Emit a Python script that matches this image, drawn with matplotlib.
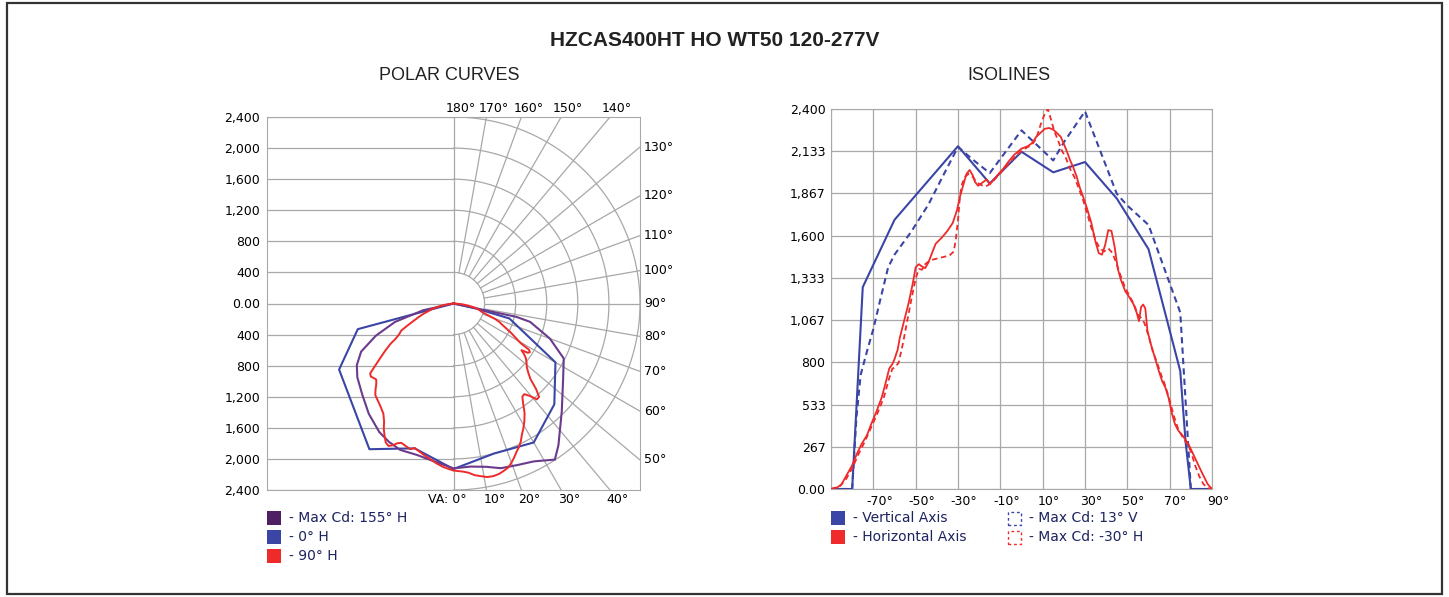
import numpy as np
import matplotlib
matplotlib.use("Agg")
import matplotlib.pyplot as plt
import matplotlib.transforms as mtransforms
from matplotlib.patches import Rectangle

# --- данные (кд по вертикальному углу; минус = противоположная полуплоскость) ---
# Vertical Axis / 0° H
vert_ang = [-90, -80, -75, -60, -30, -15, 0, 15, 30, 45, 60, 75, 77.5, 80, 90]
vert_cd = [0, 0, 1275, 1700, 2165, 1930, 2130, 2000, 2065, 1835, 1515, 745, 300, 0, 0]

# Max Cd: 13° V
vmax_ang = [-90, -80, -78, -76, -73, -70, -67, -63, -60, -52, -44, -36, -30, -22.5, -15,
            -7.5, 0, 7.5, 15, 20, 30, 45, 50, 60, 75, 77.5, 80, 90]
vmax_cd = [0, 0, 450, 720, 870, 1010, 1180, 1400, 1480, 1627, 1796, 2006, 2160, 2075, 1995,
           2130, 2265, 2170, 2075, 2190, 2385, 1865, 1790, 1668, 1115, 560, 0, 0]

# Horizontal Axis / 90° H
horz_ang = [-90, -87, -85, -82.5, -80, -77.5, -75.5, -73, -71, -68.5, -66, -64, -62.5, -61,
            -60, -58.5, -57.5, -55.5, -53.5, -51.5, -50, -48.5, -47, -45.5, -44, -42, -40.5,
            -37.5, -35, -32.5, -30.5, -29, -27.5, -26, -24.5, -23, -22, -20.5, -19, -16.5,
            -15, -13, -10.5, -8.5, -6, -3.5, 0, 3, 5, 7, 9, 11, 13, 15, 17, 18.5, 20, 21.5,
            23, 24.5, 26, 27.5, 29, 31, 33, 35, 36.5, 38, 39.5, 41, 42.5, 44, 45.5, 47, 49,
            51, 53, 54.5, 55.5, 56.5, 57.5, 58.5, 59.5, 61, 63, 65, 66.5, 68, 69.5, 71,
            72.5, 74, 76, 79, 82, 85, 88, 90]
horz_cd = [0, 10, 30, 90, 150, 230, 285, 340, 410, 490, 580, 680, 760, 790,
           820, 880, 955, 1060, 1165, 1290, 1400, 1420, 1405, 1395, 1430, 1500, 1550,
           1590, 1630, 1680, 1760, 1850, 1920, 1990, 2015, 1980, 1940, 1915, 1930, 1955,
           1925, 1955, 1995, 2025, 2070, 2110, 2150, 2165, 2185, 2225, 2250, 2275, 2280, 2270, 2245, 2225, 2180, 2130,
           2075, 2030, 1975, 1905, 1850, 1770, 1680, 1560, 1490, 1480, 1540, 1635, 1630, 1530, 1390, 1320, 1250,
           1210, 1165, 1110, 1060, 1150, 1165, 1140, 1000, 920, 830, 740, 680, 640, 575, 480,
           410, 370, 340, 280, 195, 110, 30, 0]

# Max Cd: -30° H
hmax_ang = [-90, -86, -83, -80, -77, -74, -71, -68, -65, -62.5, -61, -59.5, -58, -56, -54,
            -52, -50, -48.5, -47, -45.5, -43, -40, -37, -34, -32, -31, -30, -29, -28, -26.5,
            -25, -23, -21, -19, -17, -15, -12, -9, -6, -3, 0, 3, 5, 7, 9, 11, 12.5, 14, 15.5,
            17, 19, 21, 23, 25, 27, 29, 31, 33, 35, 37, 39, 41, 43, 45, 47, 49, 51, 53, 55,
            56.5, 58, 60, 62, 64, 66, 68, 70, 72, 74, 76, 78, 80, 82, 84, 86, 88, 90]
hmax_cd = [0, 15, 60, 130, 220, 300, 390, 480, 580, 700, 760, 770, 800, 920, 1060,
           1200, 1330, 1390, 1385, 1420, 1445, 1455, 1465, 1475, 1500, 1580, 1700, 1860, 1930, 1975,
           1990, 1970, 1935, 1920, 1910, 1925, 1965, 2010, 2055, 2100, 2135, 2160, 2175, 2215, 2300, 2370, 2400, 2330, 2260,
           2210, 2140, 2090, 2020, 1970, 1900, 1830, 1740, 1650, 1570, 1520, 1500, 1520, 1490, 1420, 1340, 1270, 1220, 1170, 1100,
           1080, 1050, 970, 870, 800, 720, 650, 560, 460, 380, 330, 290, 240, 150, 80, 30, 5, 0]

# Max Cd: 155° H (только полярный график)
p155_ang = [-90, -80, -77.5, -72.5, -67.5, -62.5, -57.5, -52.5, -45, -37.5, -30, -25, -20,
            -13.5, -8.5, 0, 6, 11.5, 16, 21.5, 27, 33, 36.5, 45, 55.5, 63.5, 70, 76.5, 78, 80, 90]
p155_cd = [0, 0, 400, 790, 1080, 1340, 1475, 1560, 1660, 1790, 1910, 1965, 2005,
           2005, 2035, 2122, 2110, 2145, 2205, 2235, 2280, 2395, 2270, 1970, 1712, 1585, 1320, 1015, 830, 0, 0]

y_ticks = [0, 267, 533, 800, 1067, 1333, 1600, 1867, 2133, 2400]

BLUE = "#3a45a5"
RED = "#ee2a2a"
PURPLE = "#6c3a8c"
PURPLE_SQ = "#4e2063"
GRID = "#a8a8a8"
TXT = "#1d2260"

W, H = 1449, 597
fig = plt.figure(figsize=(W / 100, H / 100), dpi=100)


def fx(x):
    return x / W


def fy(y):
    return 1 - y / H


def to_xy(ang, cd):
    a = np.radians(ang)
    cd = np.asarray(cd, dtype=float)
    return cd * np.sin(a), -cd * np.cos(a)


narrow = ["Liberation Sans Narrow", "Liberation Sans", "DejaVu Sans"]

fig.text(fx(715), fy(40), "HZCAS400HT HO WT50 120-277V", family=narrow,
         weight="bold", fontsize=15, ha="center", va="center", color="#222222")
fig.text(fx(449), fy(75), "POLAR CURVES", family=narrow, fontsize=13,
         ha="center", va="center", color="#222222")
fig.text(fx(1009), fy(75), "ISOLINES", family=narrow, fontsize=13,
         ha="center", va="center", color="#222222")

# рамка вокруг всего
fig.add_artist(Rectangle((fx(7), fy(594)), fx(1442) - fx(7), fy(3) - fy(594),
                         transform=fig.transFigure, fill=False,
                         edgecolor="#333333", lw=1.6))

# ---------------- полярный график ----------------
ax1 = fig.add_axes([fx(267), fy(490), fx(640) - fx(267), fy(117) - fy(490)])
ax1.set_xlim(-2400, 2400)
ax1.set_ylim(-2400, 2400)
gkw = dict(color=GRID, lw=0.9, zorder=1)
for v in range(-2400, 2401, 400):
    ax1.plot([-2400, 0], [v, v], **gkw)
ax1.plot([0, 0], [-2400, 2400], **gkw)
t = np.linspace(0, 180, 200)
for r in range(400, 2401, 400):
    ax1.plot(*to_xy(t, np.full_like(t, r)), **gkw)
for a in range(10, 180, 10):
    ax1.plot(*to_xy([a, a], [400, 4000]), **gkw)

ax1.plot(*to_xy(vert_ang, vert_cd), color=BLUE, lw=1.5, zorder=3)
ax1.plot(*to_xy(p155_ang, p155_cd), color=PURPLE, lw=1.5, zorder=3)
ax1.plot(*to_xy(horz_ang, horz_cd), color=RED, lw=1.4, zorder=4)

yt = list(range(-2400, 2401, 400))
ax1.set_yticks(yt)
ax1.set_yticklabels(["0.00" if v == 0 else f"{abs(v):,}" for v in yt])
ax1.set_xticks([])
ax1.tick_params(length=0, labelsize=9, pad=5)
for s in ax1.spines.values():
    s.set_color(GRID)

akw = dict(xycoords="data", textcoords="offset pixels", fontsize=9, annotation_clip=False)
for a in range(50, 131, 10):
    y = -2400 * np.cos(np.radians(a)) / np.sin(np.radians(a))
    ax1.annotate(f"{a}°", (2400, y), (4, 0), ha="left", va="center", **akw)
for a in range(140, 181, 10):
    x = 2400 * np.tan(np.radians(180 - a))
    ax1.annotate(f"{a}°", (x, 2400), (7, 2), ha="center", va="bottom", **akw)
for a in range(10, 41, 10):
    x = 2400 * np.tan(np.radians(a))
    ax1.annotate(f"{a}°", (x, -2400), (8, -3), ha="center", va="top", **akw)
ax1.annotate("VA: 0°", (0, -2400), (13, -3), ha="right", va="top", **akw)

# ---------------- изолинии ----------------
ax2 = fig.add_axes([fx(831), fy(489), fx(1212) - fx(831), fy(109) - fy(489)])
ax2.plot(vmax_ang, vmax_cd, color=BLUE, lw=1.5, ls=(0, (3, 2)), zorder=3)
ax2.plot(vert_ang, vert_cd, color=BLUE, lw=1.5, zorder=3)
ax2.plot(hmax_ang, hmax_cd, color=RED, lw=1.3, ls=(0, (3, 2)), zorder=4)
ax2.plot(horz_ang, horz_cd, color=RED, lw=1.3, zorder=4)
ax2.set_xlim(-90, 90)
ax2.set_ylim(0, 2400)
xt = list(range(-90, 91, 20))
ax2.set_xticks(xt)
ax2.set_xticklabels(["" if v == -90 else f"{v}°" for v in xt])
ax2.set_yticks(y_ticks)
ax2.set_yticklabels(["0.00" if v == 0 else f"{v:,}" for v in y_ticks])
ax2.grid(True, color=GRID, lw=0.9)
ax2.set_axisbelow(True)
ax2.tick_params(length=0, labelsize=9, pad=4)
off = mtransforms.ScaledTranslation(6 / 100, 0, fig.dpi_scale_trans)
for lbl in ax2.get_xticklabels():
    lbl.set_transform(lbl.get_transform() + off)
for s in ax2.spines.values():
    s.set_color(GRID)

# ---------------- легенды ----------------
def square(x, y, color, dashed=False):
    if dashed:
        p = Rectangle((fx(x), fy(y + 13)), fx(13), 13 / H, transform=fig.transFigure,
                      fill=False, edgecolor=color, lw=1.0, ls=(0, (2, 2)))
    else:
        p = Rectangle((fx(x), fy(y + 14)), fx(14), 14 / H, transform=fig.transFigure,
                      facecolor=color, edgecolor="none")
    fig.add_artist(p)


lkw = dict(fontsize=10, color=TXT, va="center", ha="left")
square(267, 511, PURPLE_SQ)
fig.text(fx(289), fy(518), "- Max Cd: 155° H", **lkw)
square(267, 530, BLUE)
fig.text(fx(289), fy(537), "- 0° H", **lkw)
square(267, 549, RED)
fig.text(fx(289), fy(556), "- 90° H", **lkw)

square(831, 511, BLUE)
fig.text(fx(853), fy(518), "- Vertical Axis", **lkw)
square(831, 530, RED)
fig.text(fx(853), fy(537), "- Horizontal Axis", **lkw)
square(1008, 512, BLUE, dashed=True)
fig.text(fx(1029), fy(518), "- Max Cd: 13° V", **lkw)
square(1008, 531, RED, dashed=True)
fig.text(fx(1029), fy(537), "- Max Cd: -30° H", **lkw)

fig.savefig("out.png", dpi=100)
